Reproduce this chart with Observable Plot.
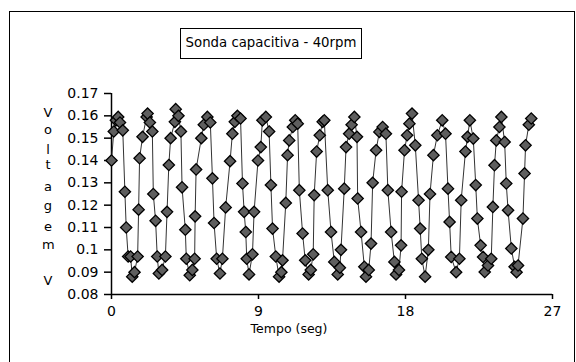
<!DOCTYPE html>
<html>
<head>
<meta charset="utf-8">
<script src="https://cdn.jsdelivr.net/npm/d3@7"></script>
<script src="https://cdn.jsdelivr.net/npm/@observablehq/plot@0.6"></script>
<style>
  html, body { margin: 0; padding: 0; background: #fff; }
  #wrap { position: relative; width: 576px; height: 362px; overflow: hidden; font-family: "DejaVu Sans", sans-serif; }
  #frame { position: absolute; left: 9px; top: 11px; width: 566px; height: 400px; border: 1.5px solid #000; box-sizing: border-box; }
  #title { position: absolute; left: 180px; top: 28px; width: 182px; height: 31px; border: 1.5px solid #000; box-sizing: border-box;
           font-size: 13.3px; line-height: 28px; text-align: center; color: #000; background: #fff; }
  .ylab { position: absolute; left: 42px; width: 12px; text-align: center; font-size: 13px; color: #000; line-height: 12px; }
  #xlab { position: absolute; left: 239px; width: 100px; top: 321px; text-align: center; font-size: 12.5px; color: #000; }
  #chart { position: absolute; left: 0; top: 0; }
</style>
</head>
<body>
<div id="wrap">
  <div id="frame"></div>
  <div id="chart"></div>
  <div id="title"></div>
  <div id="xlab"></div>
</div>
<script>
const chartTitle = "Sonda capacitiva - 40rpm";
const xLabel = "Tempo (seg)";
const yLabelLetters = ["V", "o", "l", "t", "a", "g", "e", "m", "V"];
const yLabelPos = [113, 130, 150, 165, 187, 206, 227, 245, 281];
const xTicks = [0, 9, 18, 27];
const yTicks = [0.08, 0.09, 0.1, 0.11, 0.12, 0.13, 0.14, 0.15, 0.16, 0.17];

const tempo = [
  0.00, 0.14, 0.27, 0.41, 0.52, 0.69, 0.82, 0.90, 1.02, 1.17, 1.27, 1.41,
  1.60, 1.66, 1.72, 1.90, 2.15, 2.21, 2.35, 2.50, 2.56, 2.70, 2.80, 2.90, 3.10,
  3.30, 3.40, 3.51, 3.62, 3.88, 3.93, 4.10, 4.25, 4.32, 4.52, 4.58, 4.79, 4.95,
  5.09, 5.12, 5.18, 5.50, 5.65, 5.87, 6.05, 6.18, 6.28, 6.44, 6.64, 6.79,
  6.99, 7.26, 7.40, 7.55, 7.71, 7.90, 8.02, 8.12, 8.22, 8.28, 8.42, 8.63,
  8.73, 8.97, 9.14, 9.24, 9.45, 9.65, 9.76, 9.86, 10.06, 10.26, 10.40,
  10.47, 10.67, 10.78, 10.88, 11.10, 11.25, 11.40, 11.50, 11.70, 11.86, 12.07, 12.20,
  12.35, 12.41, 12.56, 12.75, 12.93, 13.03, 13.24, 13.44, 13.64, 13.85, 13.98,
  14.05, 14.25, 14.36, 14.55, 14.70, 14.87, 15.03, 15.07, 15.28, 15.48, 15.58, 15.75,
  15.89, 15.99, 16.20, 16.40, 16.60, 16.80, 16.92, 17.12, 17.32, 17.42, 17.60,
  17.73, 17.76, 17.94, 18.10, 18.24, 18.40, 18.60, 18.80, 18.90, 19.00, 19.20,
  19.40, 19.50, 19.71, 19.95, 20.25, 20.45, 20.60, 20.70, 20.80, 21.10,
  21.30, 21.41, 21.67, 21.80, 21.94, 22.15, 22.30, 22.40, 22.60, 22.75, 22.85, 23.05,
  23.25, 23.35, 23.45, 23.56, 23.75, 23.87, 24.07, 24.17, 24.28, 24.48, 24.68, 24.80,
  24.89, 25.19, 25.29, 25.35, 25.55, 25.70
];
const voltagem = [
  0.140, 0.153, 0.158, 0.1595, 0.157, 0.1535, 0.126, 0.110, 0.097, 0.097, 0.088, 0.090,
  0.097, 0.118, 0.141, 0.1506, 0.1595, 0.161, 0.157, 0.153, 0.125, 0.113, 0.097, 0.0894, 0.091,
  0.097, 0.117, 0.138, 0.150, 0.1573, 0.163, 0.160, 0.153, 0.128, 0.109, 0.096, 0.0886, 0.091,
  0.096, 0.115, 0.136, 0.150, 0.156, 0.1595, 0.157, 0.132, 0.112, 0.096, 0.0894, 0.096,
  0.119, 0.1397, 0.152, 0.1573, 0.160, 0.1588, 0.1297, 0.117, 0.108, 0.096, 0.089, 0.098,
  0.117, 0.140, 0.146, 0.158, 0.1595, 0.153, 0.129, 0.1095, 0.097, 0.088, 0.090,
  0.0953, 0.121, 0.1424, 0.149, 0.155, 0.158, 0.1565, 0.1267, 0.1073, 0.0953, 0.089, 0.091,
  0.098, 0.1245, 0.144, 0.1513, 0.1573, 0.158, 0.1267, 0.108, 0.0946, 0.089, 0.092,
  0.100, 0.1274, 0.146, 0.152, 0.156, 0.1595, 0.1506, 0.123, 0.108, 0.0924, 0.088, 0.091,
  0.1028, 0.130, 0.1446, 0.1528, 0.155, 0.152, 0.1267, 0.108, 0.0946, 0.089, 0.091,
  0.102, 0.126, 0.1446, 0.1513, 0.1565, 0.161, 0.1468, 0.1222, 0.1095, 0.096, 0.088,
  0.100, 0.125, 0.1424, 0.1513, 0.158, 0.152, 0.1274, 0.1125, 0.0968, 0.090,
  0.096, 0.1222, 0.144, 0.1506, 0.158, 0.1498, 0.129, 0.114, 0.102, 0.0968, 0.0901, 0.093,
  0.096, 0.1192, 0.1379, 0.149, 0.155, 0.1595, 0.1483, 0.1297, 0.1177, 0.1006, 0.0924, 0.090,
  0.093, 0.114, 0.1342, 0.1468, 0.156, 0.1588
];

const data = tempo.map((t, i) => ({t, v: voltagem[i]}));

const fmtY = d => String(+d.toFixed(2));

const plot = Plot.plot({
  width: 576,
  height: 362,
  marginLeft: 111,
  marginRight: 24,
  marginTop: 93,
  marginBottom: 68,
  style: {fontFamily: "DejaVu Sans, sans-serif", fontSize: "14px", color: "#000", background: "transparent"},
  x: {domain: [0, 27], ticks: xTicks},
  y: {domain: [0.08, 0.17], ticks: yTicks},
  marks: [
    Plot.ruleX([0], {y1: 0.08, y2: 0.17, stroke: "#000", strokeWidth: 1.5}),
    Plot.ruleY([0.08], {x1: 0, x2: 27, stroke: "#000", strokeWidth: 1.5}),
    Plot.axisY({ticks: yTicks, tickFormat: fmtY, tickSize: 7, tickPadding: 6, label: null, stroke: "#000", strokeWidth: 1.5, fontSize: 14}),
    Plot.axisX({ticks: xTicks, tickSize: 5, tickPadding: 7, label: null, stroke: "#000", strokeWidth: 1.5, fontSize: 14}),
    Plot.line(data, {x: "t", y: "v", stroke: "#333", strokeWidth: 1}),
    Plot.dot(data, {x: "t", y: "v", symbol: "diamond2", r: 5.1, fill: "#5e5e5e", stroke: "#000", strokeWidth: 1.3})
  ]
});
document.getElementById("chart").appendChild(plot);

const wrap = document.getElementById("wrap");
yLabelLetters.forEach((ch, i) => {
  const el = document.createElement("div");
  el.className = "ylab";
  el.textContent = ch;
  el.style.top = (yLabelPos[i] - 6) + "px";
  wrap.appendChild(el);
});
document.getElementById("title").textContent = chartTitle;
document.getElementById("xlab").textContent = xLabel;
</script>
</body>
</html>
